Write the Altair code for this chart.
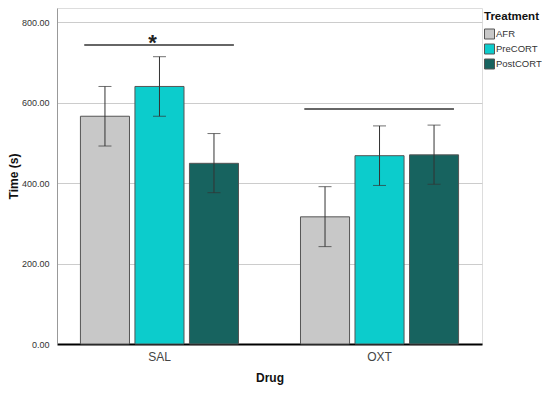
import altair as alt
import pandas as pd

drugs = ["SAL", "SAL", "SAL", "OXT", "OXT", "OXT"]
treatments = ["AFR", "PreCORT", "PostCORT", "AFR", "PreCORT", "PostCORT"]
means = [566, 640, 449, 316, 468, 470]
ci_low = [492, 566, 376, 242, 394, 397]
ci_high = [640, 714, 523, 391, 542, 544]

sig_drugs = ["SAL", "OXT"]
sig_levels = [743, 584]
sig_marks = ["*", ""]

drug_order = ["SAL", "OXT"]
treat_order = ["AFR", "PreCORT", "PostCORT"]
treat_colors = ["#c8c8c8", "#0ccccc", "#17635f"]

df = pd.DataFrame({"Drug": drugs, "Treatment": treatments, "Mean": means,
                   "Lo": ci_low, "Hi": ci_high})
sig = pd.DataFrame({"Drug": sig_drugs, "Level": sig_levels, "Mark": sig_marks})

FONT = "Liberation Sans"

xscale = alt.Scale(domain=drug_order, paddingInner=0.2727, paddingOuter=0.102)
xoff_scale = alt.Scale(domain=treat_order, paddingInner=0.1, paddingOuter=0.018)
yscale = alt.Scale(domain=[0, 835], nice=False)

x_enc = alt.X("Drug:N", scale=xscale, sort=drug_order,
              axis=alt.Axis(title="Drug", labelAngle=0, ticks=False,
                            domainColor="#000", domainWidth=2.2,
                            labelFontSize=12, labelColor="#444", labelPadding=7,
                            titleFontSize=12, titleFontWeight="bold",
                            titleColor="#111", titlePadding=10, grid=False))
y_enc = alt.Y("Mean:Q", scale=yscale,
              axis=alt.Axis(title="Time (s)", values=[0, 200, 400, 600, 800],
                            format=".2f", ticks=False, labelFontSize=9,
                            labelColor="#333", labelPadding=8,
                            domainColor="#999", grid=True, gridColor="#cccccc",
                            titleFontSize=12, titleFontWeight="bold",
                            titleColor="#111", titlePadding=1))

bars = alt.Chart(df).mark_bar(stroke="#555", strokeWidth=1).encode(
    x=x_enc,
    xOffset=alt.XOffset("Treatment:N", scale=xoff_scale, sort=treat_order),
    y=y_enc,
    fill=alt.Fill("Treatment:N", sort=treat_order,
                  scale=alt.Scale(domain=treat_order, range=treat_colors),
                  legend=alt.Legend(title="Treatment", orient="none",
                                    legendX=427, legendY=3,
                                    symbolType="square", symbolSize=100,
                                    symbolStrokeColor="#555", symbolStrokeWidth=1,
                                    labelFontSize=9.5, labelColor="#333",
                                    labelOffset=1, rowPadding=0,
                                    titleFontSize=11.5, titleFontWeight="bold",
                                    titleColor="#111", titlePadding=6)),
)

err = alt.Chart(df).mark_rule(color="#333", strokeWidth=1).encode(
    x=alt.X("Drug:N", scale=xscale, sort=drug_order),
    xOffset=alt.XOffset("Treatment:N", scale=xoff_scale, sort=treat_order),
    y=alt.Y("Lo:Q", scale=yscale),
    y2="Hi:Q",
)
cap_hi = alt.Chart(df).mark_tick(color="#333", size=13, thickness=1).encode(
    x=alt.X("Drug:N", scale=xscale, sort=drug_order),
    xOffset=alt.XOffset("Treatment:N", scale=xoff_scale, sort=treat_order),
    y=alt.Y("Hi:Q", scale=yscale),
)
cap_lo = alt.Chart(df).mark_tick(color="#333", size=13, thickness=1).encode(
    x=alt.X("Drug:N", scale=xscale, sort=drug_order),
    xOffset=alt.XOffset("Treatment:N", scale=xoff_scale, sort=treat_order),
    y=alt.Y("Lo:Q", scale=yscale),
)

sig_lines = alt.Chart(sig).mark_rule(color="#333", strokeWidth=1.5).encode(
    x=alt.X("Drug:N", scale=xscale, sort=drug_order, bandPosition=0.03),
    x2=alt.X2("Drug:N", bandPosition=0.965),
    y=alt.Y("Level:Q", scale=yscale),
)
stars = alt.Chart(sig).mark_text(font=FONT, fontSize=22, fontWeight="bold",
                                 color="#222", baseline="middle", dx=-7, dy=-2).encode(
    x=alt.X("Drug:N", scale=xscale, sort=drug_order),
    y=alt.Y("Level:Q", scale=yscale),
    text="Mark:N",
)

chart = alt.layer(bars, err, cap_hi, cap_lo, sig_lines, stars).properties(
    width=425, height=336,
    autosize=alt.AutoSizeParams(type="none"),
    padding={"left": 49, "top": 0, "right": 60, "bottom": 41},
).configure_view(stroke=None).configure(font=FONT)

chart.save("out.html", embed_options={"renderer": "svg", "actions": False})
